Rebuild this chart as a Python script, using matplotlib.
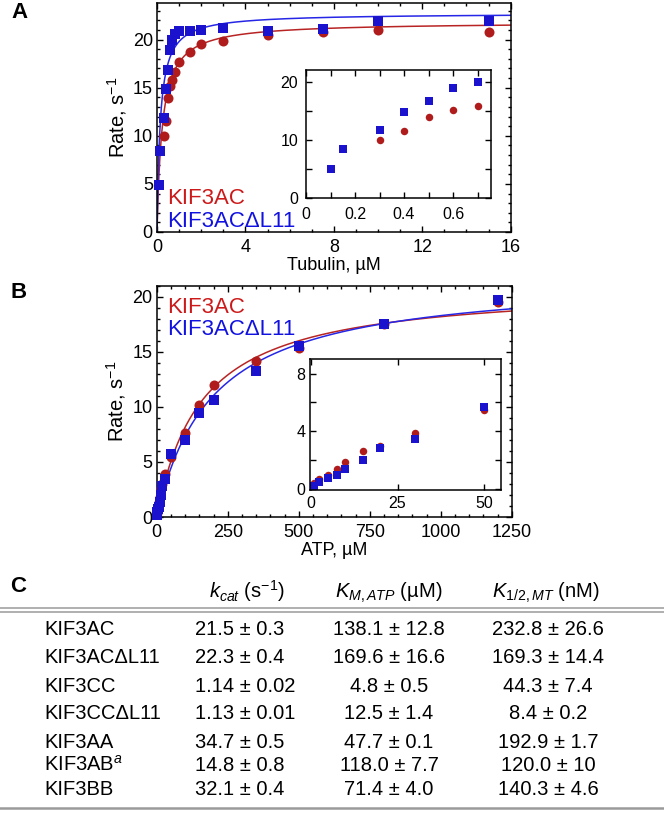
import matplotlib
matplotlib.use("Agg")
import matplotlib.pyplot as plt
from matplotlib.ticker import MultipleLocator, FixedLocator
from matplotlib.lines import Line2D
import numpy as np

plt.rcParams['font.family'] = ['Liberation Sans', 'DejaVu Sans']
plt.rcParams['mathtext.fontset'] = 'custom'
plt.rcParams['mathtext.rm'] = 'Liberation Sans'
plt.rcParams['mathtext.it'] = 'Liberation Sans:italic'
plt.rcParams['mathtext.bf'] = 'Liberation Sans:bold'

# ---------------- data ----------------
# Panel A: tubulin dependence
tub_ac = [0.3, 0.4, 0.5, 0.6, 0.7, 0.8, 1.0, 1.5, 2, 3, 5, 7.5, 10, 15]
rate_ac_tub = [10.0, 11.5, 13.9, 15.2, 15.8, 16.6, 17.7, 18.7, 19.5, 19.9, 20.5, 20.8, 21.0, 20.8]
tub_dl = [0.1, 0.15, 0.3, 0.4, 0.5, 0.6, 0.7, 0.8, 1.0, 1.5, 2, 3, 5, 7.5, 10, 15]
rate_dl_tub = [4.9, 8.4, 11.8, 14.9, 16.8, 18.9, 20.0, 20.6, 20.9, 20.9, 21.0, 21.2, 20.9, 21.1, 21.9, 21.9]
# hyperbolic fit parameters (Vmax, K) for the drawn curves
fit_tub_ac = (21.82, 0.238)
fit_tub_dl = (22.73, 0.148)

# Panel B: ATP dependence
atp = [1, 2.5, 5, 7.5, 10, 15, 20, 30, 50, 100, 150, 200, 350, 500, 800, 1200]
rate_ac_atp = [0.36, 0.66, 0.94, 1.33, 1.82, 2.65, 2.97, 3.88, 5.45, 7.6, 10.2, 12.0, 14.2, 15.3, 17.5, 19.5]
rate_dl_atp = [0.17, 0.43, 0.75, 0.94, 1.35, 1.98, 2.79, 3.44, 5.7, 7.0, 9.4, 10.65, 13.3, 15.5, 17.5, 19.7]
fit_atp_ac = (21.07, 158.5)
fit_atp_dl = (21.88, 196.8)

# Panel C: table
row_names = ["KIF3AC", "KIF3AC\u0394L11", "KIF3CC", "KIF3CC\u0394L11", "KIF3AA", "KIF3AB$^{a}$", "KIF3BB"]
kcat = ["21.5 \u00b1 0.3", "22.3 \u00b1 0.4", "1.14 \u00b1 0.02", "1.13 \u00b1 0.01",
        "34.7 \u00b1 0.5", "14.8 \u00b1 0.8", "32.1 \u00b1 0.4"]
km_atp = ["138.1 \u00b1 12.8", "169.6 \u00b1 16.6", "4.8 \u00b1 0.5", "12.5 \u00b1 1.4",
          "47.7 \u00b1 0.1", "118.0 \u00b1 7.7", "71.4 \u00b1 4.0"]
k_half = ["232.8 \u00b1 26.6", "169.3 \u00b1 14.4", "44.3 \u00b1 7.4", "8.4 \u00b1 0.2",
          "192.9 \u00b1 1.7", "120.0 \u00b1 10", "140.3 \u00b1 4.6"]
headers = ["$k_{cat}$ (s$^{-1}$)", "$K_{M,ATP}$ (\u00b5M)", "$K_{1/2,MT}$ (nM)"]

RED = "#B01C1C"
BLUE = "#1A12CC"
RED_LINE = "#B82424"
BLUE_LINE = "#2626E6"
RED_TXT = "#CC1A1A"
BLUE_TXT = "#1212E0"

W, H = 664, 814
fig = plt.figure(figsize=(W / 100, H / 100), dpi=100)


def rect(l, t, r, b):
    return [l / W, 1 - b / H, (r - l) / W, (b - t) / H]


def style(ax, fs, xpad=4, ypad=3, maj=4.3, mnr=2.5):
    ax.tick_params(which='both', direction='in', top=True, right=True, width=1)
    ax.tick_params(which='major', length=maj, labelsize=fs)
    ax.tick_params(which='minor', length=mnr)
    ax.tick_params(axis='x', pad=xpad)
    ax.tick_params(axis='y', pad=ypad)
    for s in ax.spines.values():
        s.set_linewidth(1.1)


def hyper(x, p):
    V, K = p
    x = np.asarray(x, float)
    return V * x / (K + x)


# ---------------- Panel A ----------------
axA = fig.add_axes(rect(157, 3, 510.7, 232))
xs = np.linspace(0, 16, 800)
axA.plot(xs, hyper(xs, fit_tub_ac), color=RED_LINE, lw=1.1, zorder=2)
axA.plot(xs, hyper(xs, fit_tub_dl), color=BLUE_LINE, lw=1.1, zorder=2)
axA.plot(tub_ac, rate_ac_tub, 'o', color=RED, ms=7.2, mew=0, zorder=3, clip_on=False)
axA.plot(tub_dl, rate_dl_tub, 's', color=BLUE, ms=6.8, mew=0, zorder=4, clip_on=False)
axA.set_xlim(0, 16)
axA.set_ylim(0, 23.8)
axA.xaxis.set_major_locator(MultipleLocator(4))
axA.xaxis.set_minor_locator(MultipleLocator(1))
axA.yaxis.set_major_locator(MultipleLocator(5))
axA.yaxis.set_minor_locator(MultipleLocator(1))
style(axA, 13, xpad=5, ypad=3)
axA.set_xlabel("Tubulin, \u00b5M", fontsize=13, labelpad=1)
axA.set_ylabel("Rate, s$^{-1}$", fontsize=14.5, labelpad=3)
fig.text(166.7 / W, 1 - 203.7 / H, "KIF3AC", color=RED_TXT, fontsize=16, va='baseline')
fig.text(166.7 / W, 1 - 226.7 / H, "KIF3AC\u0394L11", color=BLUE_TXT, fontsize=16, va='baseline')

# inset A
insA = fig.add_axes(rect(306, 70, 491, 197.7))
m_ac = [i for i, v in enumerate(tub_ac) if v <= 0.75]
m_dl = [i for i, v in enumerate(tub_dl) if v <= 0.75]
insA.plot([tub_ac[i] for i in m_ac], [rate_ac_tub[i] for i in m_ac], 'o', color=RED, ms=5.4, mew=0)
insA.plot([tub_dl[i] for i in m_dl], [rate_dl_tub[i] for i in m_dl], 's', color=BLUE, ms=5.4, mew=0)
insA.set_xlim(0, 0.755)
insA.set_ylim(0, 22.1)
insA.xaxis.set_major_locator(FixedLocator([0, 0.2, 0.4, 0.6]))
insA.xaxis.set_minor_locator(MultipleLocator(0.1))
insA.set_xticklabels(["0", "0.2", "0.4", "0.6"])
insA.yaxis.set_major_locator(MultipleLocator(10))
insA.yaxis.set_minor_locator(MultipleLocator(5))
style(insA, 11.5, xpad=7, ypad=5.5, maj=4.3, mnr=4.3)

# ---------------- Panel B ----------------
axB = fig.add_axes(rect(156.7, 285.7, 511.7, 517))
xb = np.linspace(0, 1250, 1000)
axB.plot(xb, hyper(xb, fit_atp_ac), color=RED_LINE, lw=1.1, zorder=2)
axB.plot(xb, hyper(xb, fit_atp_dl), color=BLUE_LINE, lw=1.1, zorder=2)
axB.plot(atp, rate_ac_atp, 'o', color=RED, ms=7.2, mew=0, zorder=3, clip_on=False)
axB.plot(atp, rate_dl_atp, 's', color=BLUE, ms=6.8, mew=0, zorder=4, clip_on=False)
axB.set_xlim(0, 1250)
axB.set_ylim(0, 21)
axB.xaxis.set_major_locator(MultipleLocator(250))
axB.xaxis.set_minor_locator(MultipleLocator(50))
axB.yaxis.set_major_locator(MultipleLocator(5))
axB.yaxis.set_minor_locator(MultipleLocator(1))
style(axB, 13, xpad=5, ypad=3)
axB.set_xlabel("ATP, \u00b5M", fontsize=13, labelpad=1)
axB.set_ylabel("Rate, s$^{-1}$", fontsize=14.5, labelpad=3)
fig.text(166.7 / W, 1 - 312.7 / H, "KIF3AC", color=RED_TXT, fontsize=16, va='baseline')
fig.text(166.7 / W, 1 - 335 / H, "KIF3AC\u0394L11", color=BLUE_TXT, fontsize=16, va='baseline')

# inset B
insB = fig.add_axes(rect(310, 359.3, 501, 490))
ib = [i for i, v in enumerate(atp) if v <= 55]
insB.plot([atp[i] for i in ib], [rate_ac_atp[i] for i in ib], 'o', color=RED, ms=5.4, mew=0, clip_on=False)
insB.plot([atp[i] for i in ib], [rate_dl_atp[i] for i in ib], 's', color=BLUE, ms=5.4, mew=0, clip_on=False)
insB.set_xlim(-0.2, 54.8)
insB.set_ylim(-0.1, 9.0)
insB.xaxis.set_major_locator(MultipleLocator(25))
insB.yaxis.set_major_locator(FixedLocator([0, 4, 8]))
insB.yaxis.set_minor_locator(FixedLocator([2, 6]))
style(insB, 11.5, xpad=4.5, ypad=3.5, maj=4.3, mnr=4.3)

# ---------------- Panel labels ----------------
for lab, (x, y) in zip("ABC", [(20, 12), (19, 292), (18, 586)]):
    fig.text(x / W, 1 - y / H, lab, fontsize=16, fontweight='bold', ha='center', va='center')

# ---------------- Panel C: table ----------------
TFS = 14.5
hx = [247, 389, 546]
for h, x in zip(headers, hx):
    fig.text(x / W, 1 - 598 / H, h, fontsize=TFS, ha='center', va='baseline')

grey = "#9a9a9a"
for yy, lw in [(607.7, 1.1), (611.7, 1.1), (808.3, 1.8)]:
    fig.add_artist(Line2D([0, 1], [1 - yy / H, 1 - yy / H], transform=fig.transFigure,
                          color=grey, lw=lw))

baselines = [635, 662.7, 691.7, 719.4, 747.7, 771, 795]
for name, a, b, c, yb in zip(row_names, kcat, km_atp, k_half, baselines):
    fy = 1 - yb / H
    fig.text(44 / W, fy, name, fontsize=TFS, ha='left', va='baseline')
    fig.text(195 / W, fy, a, fontsize=TFS, ha='left', va='baseline')
    fig.text(389 / W, fy, b, fontsize=TFS, ha='center', va='baseline')
    fig.text(548 / W, fy, c, fontsize=TFS, ha='center', va='baseline')

fig.savefig("out.png", dpi=100)
